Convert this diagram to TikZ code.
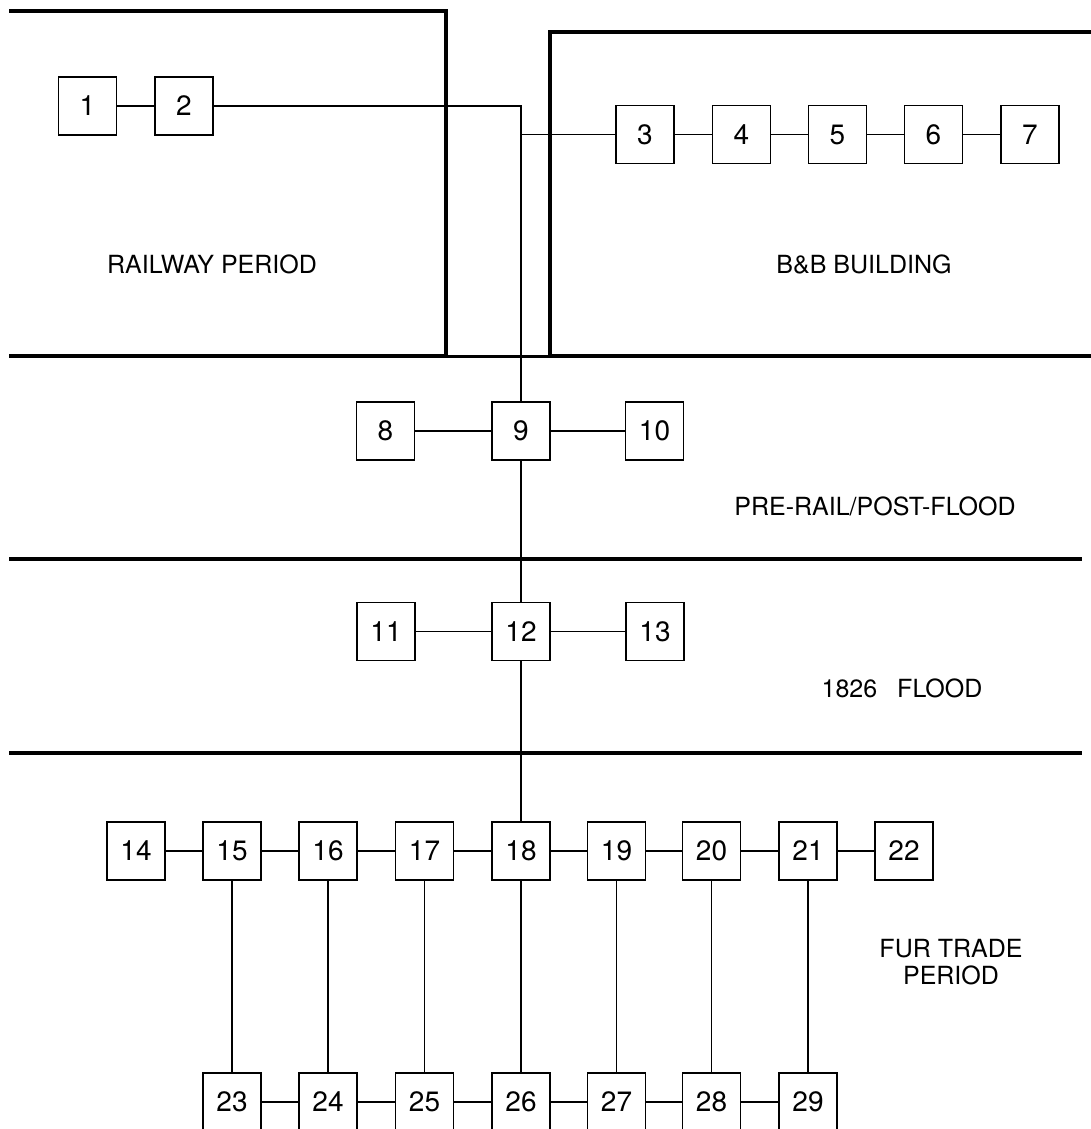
\documentclass[tikz,border=0pt]{standalone}
\usepackage{fontspec}
\setmainfont{TeX Gyre Heros}
\begin{document}
\begin{tikzpicture}[x=1pt,y=-1pt,
  box/.style={draw, line width=1.4pt, fill=white, minimum width=58pt, minimum height=58pt, inner sep=0pt, font=\fontsize{28}{28}\selectfont},
  conn/.style={line width=1.3pt},
  wall/.style={line width=4pt},
  lbl/.style={font=\fontsize{25}{27}\selectfont, align=center, inner sep=0pt}]
\useasboundingbox (0,0) rectangle (1091,1129);
\clip (0,0) rectangle (1091,1129);
% period walls
\draw[wall] (9,11) -- (446,11) -- (446,356);
\draw[wall] (1091,32) -- (550,32) -- (550,356);
\draw[wall] (9,356) -- (446,356);
\draw[line width=3pt] (446,356) -- (550,356);
\draw[wall] (550,356) -- (1091,356);
\draw[wall] (9,559) -- (1082,559);
\draw[wall] (9,753) -- (1082,753);
% boxes
\node[box] (b1) at (87.5,106) {1};
\node[box] (b2) at (184,106) {2};
\node[box] (b3) at (645,134.5) {3};
\node[box] (b4) at (741.5,134.5) {4};
\node[box] (b5) at (837.5,134.5) {5};
\node[box] (b6) at (933.5,134.5) {6};
\node[box] (b7) at (1030,134.5) {7};
\node[box] (b8) at (385.5,431) {8};
\node[box] (b9) at (521,431) {9};
\node[box] (b10) at (654.5,431) {10};
\node[box] (b11) at (386,631.5) {11};
\node[box] (b12) at (521,631.5) {12};
\node[box] (b13) at (655,631.5) {13};
\node[box] (b14) at (136,851) {14};
\node[box] (b15) at (232,851) {15};
\node[box] (b16) at (328,851) {16};
\node[box] (b17) at (424.5,851) {17};
\node[box] (b18) at (521,851) {18};
\node[box] (b19) at (616.5,851) {19};
\node[box] (b20) at (711.5,851) {20};
\node[box] (b21) at (808,851) {21};
\node[box] (b22) at (904,851) {22};
\node[box] (b23) at (232,1102) {23};
\node[box] (b24) at (328,1102) {24};
\node[box] (b25) at (424.5,1102) {25};
\node[box] (b26) at (521,1102) {26};
\node[box] (b27) at (616.5,1102) {27};
\node[box] (b28) at (711.5,1102) {28};
\node[box] (b29) at (808,1102) {29};
% labels
\node[lbl] (lrail) at (212,264) {RAILWAY PERIOD};
\node[lbl] (lbb) at (864,264) {B\&B BUILDING};
\node[lbl] (lpre) at (875,506) {PRE-RAIL/POST-FLOOD};
\node[lbl] (lflood) at (902,688) {1826\hspace{0.8em}FLOOD};
\node[lbl] (lfur) at (951,962) {FUR TRADE\\PERIOD};
% connectors
\draw[conn] (b1) -- (b2);
\draw[conn] (b2.east) -| (b9.north);
\draw[conn] (b3.west) -- (b3.west -| b9.north);
\draw[conn] (b3) -- (b4);
\draw[conn] (b4) -- (b5);
\draw[conn] (b5) -- (b6);
\draw[conn] (b6) -- (b7);
\draw[conn] (b8) -- (b9);
\draw[conn] (b9) -- (b10);
\draw[conn] (b9) -- (b12);
\draw[conn] (b11) -- (b12);
\draw[conn] (b12) -- (b13);
\draw[conn] (b12) -- (b18);
\foreach \a/\b in {14/15,15/16,16/17,17/18,18/19,19/20,20/21,21/22,23/24,24/25,25/26,26/27,27/28,28/29,15/23,16/24,17/25,18/26,19/27,20/28,21/29}
  \draw[conn] (b\a) -- (b\b);
\end{tikzpicture}
\end{document}
